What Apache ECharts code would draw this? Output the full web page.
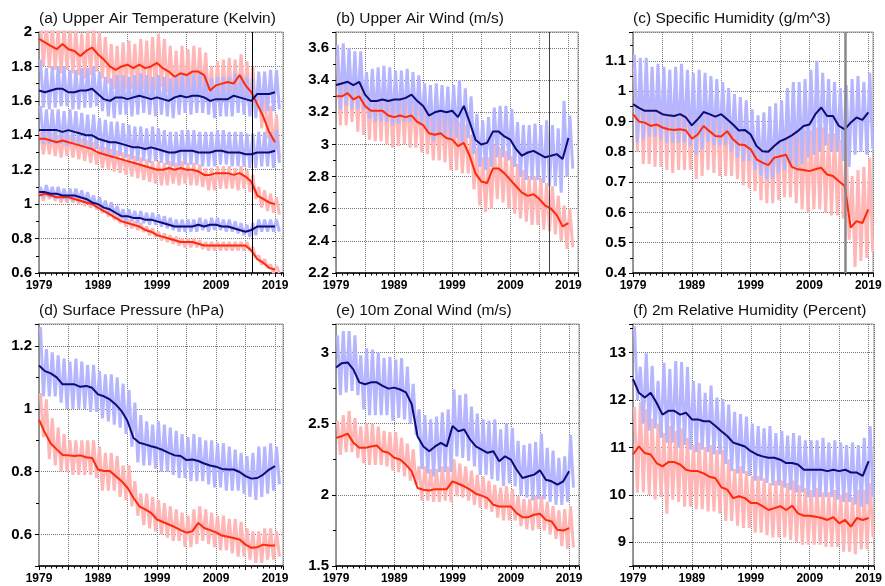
<!DOCTYPE html>
<html>
<head>
<meta charset="utf-8">
<script src="https://cdn.jsdelivr.net/npm/echarts@6/dist/echarts.min.js"></script>
<style>
html, body { margin: 0; padding: 0; background: #fff; }
#main { width: 885px; height: 586px; }
</style>
</head>
<body>
<div id="main"></div>
<script>
var years = [1979,1980,1981,1982,1983,1984,1985,1986,1987,1988,
             1989,1990,1991,1992,1993,1994,1995,1996,1997,1998,
             1999,2000,2001,2002,2003,2004,2005,2006,2007,2008,
             2009,2010,2011,2012,2013,2014,2015,2016,2017,2018,2019];

// (a) Upper Air Temperature - 12-month means and yearly highs / lows of the monthly series
var aRedTop   = [1.96,1.94,1.92,1.90,1.93,1.90,1.89,1.86,1.89,1.91, 1.87,1.84,1.80,1.78,1.80,1.81,1.79,1.81,1.79,1.80, 1.82,1.79,1.77,1.74,1.76,1.75,1.77,1.77,1.75,1.66, 1.69,1.70,1.71,1.70,1.75,1.69,1.65,1.58,1.51,1.42, 1.36];
var aRedTopHi = [2.06,2.05,2.03,2.02,2.04,2.02,2.01,1.99,2.01,2.03, 2.00,1.97,1.93,1.92,1.94,1.95,1.93,1.96,1.95,1.97, 1.99,1.96,1.92,1.89,1.92,1.90,1.92,1.91,1.88,1.80, 1.83,1.84,1.85,1.84,1.87,1.83,1.80,1.74,1.67,1.57, 1.52];
var aRedTopLo = [1.80,1.79,1.78,1.76,1.78,1.76,1.75,1.73,1.75,1.77, 1.73,1.70,1.67,1.65,1.67,1.67,1.66,1.67,1.66,1.66, 1.68,1.65,1.63,1.61,1.63,1.62,1.63,1.63,1.61,1.54, 1.56,1.57,1.58,1.57,1.61,1.57,1.52,1.44,1.38,1.30, 1.27];
var aBlueTop   = [1.66,1.65,1.66,1.67,1.67,1.65,1.65,1.66,1.66,1.67, 1.64,1.61,1.60,1.62,1.62,1.61,1.62,1.63,1.62,1.61, 1.62,1.61,1.60,1.62,1.63,1.62,1.63,1.63,1.62,1.60, 1.61,1.61,1.61,1.63,1.62,1.61,1.60,1.64,1.64,1.64, 1.65];
var aBlueTopHi = [1.84,1.79,1.80,1.80,1.80,1.78,1.78,1.79,1.79,1.80, 1.77,1.74,1.73,1.75,1.75,1.74,1.75,1.76,1.75,1.74, 1.75,1.74,1.73,1.75,1.76,1.75,1.76,1.76,1.75,1.73, 1.74,1.74,1.74,1.76,1.75,1.74,1.73,1.77,1.77,1.78, 1.78];
var aBlueTopLo = [1.56,1.55,1.56,1.57,1.57,1.55,1.55,1.56,1.56,1.57, 1.54,1.51,1.50,1.52,1.52,1.51,1.52,1.53,1.52,1.51, 1.52,1.51,1.50,1.52,1.53,1.52,1.53,1.53,1.52,1.50, 1.51,1.51,1.51,1.53,1.52,1.51,1.50,1.54,1.54,1.54, 1.55];
var aBlueMid   = [1.43,1.43,1.43,1.43,1.42,1.43,1.42,1.41,1.40,1.40, 1.38,1.37,1.36,1.36,1.35,1.34,1.33,1.33,1.32,1.33, 1.32,1.31,1.30,1.30,1.31,1.31,1.31,1.30,1.30,1.30, 1.31,1.31,1.30,1.30,1.30,1.29,1.29,1.30,1.30,1.30, 1.31];
var aBlueMidHi = [1.57,1.55,1.55,1.55,1.54,1.55,1.54,1.53,1.52,1.52, 1.50,1.49,1.48,1.48,1.47,1.46,1.45,1.45,1.44,1.45, 1.44,1.43,1.42,1.42,1.43,1.43,1.43,1.42,1.42,1.42, 1.43,1.43,1.42,1.42,1.42,1.41,1.41,1.42,1.42,1.42, 1.43];
var aBlueMidLo = [1.35,1.35,1.35,1.35,1.34,1.35,1.34,1.33,1.32,1.32, 1.30,1.29,1.28,1.28,1.27,1.26,1.25,1.25,1.24,1.25, 1.24,1.23,1.22,1.22,1.23,1.23,1.23,1.22,1.22,1.22, 1.23,1.23,1.22,1.22,1.22,1.21,1.21,1.22,1.22,1.21, 1.24];
var aRedMid   = [1.38,1.38,1.37,1.36,1.37,1.36,1.35,1.34,1.33,1.32, 1.30,1.29,1.28,1.27,1.26,1.25,1.24,1.23,1.22,1.21, 1.20,1.20,1.21,1.20,1.21,1.20,1.20,1.19,1.17,1.17, 1.18,1.18,1.18,1.17,1.18,1.16,1.13,1.05,1.03,1.01, 1.00];
var aRedMidHi = [1.42,1.42,1.41,1.40,1.41,1.40,1.39,1.38,1.37,1.36, 1.34,1.33,1.32,1.31,1.30,1.29,1.28,1.27,1.26,1.25, 1.25,1.24,1.25,1.24,1.25,1.24,1.24,1.23,1.21,1.21, 1.22,1.22,1.22,1.21,1.22,1.20,1.17,1.10,1.08,1.06, 1.04];
var aRedMidLo = [1.29,1.29,1.28,1.27,1.28,1.27,1.26,1.25,1.24,1.23, 1.21,1.20,1.19,1.18,1.17,1.16,1.15,1.14,1.13,1.12, 1.11,1.11,1.12,1.11,1.12,1.11,1.11,1.10,1.08,1.08, 1.09,1.09,1.09,1.08,1.09,1.07,1.03,0.98,0.96,0.95, 0.94];
var aBlueLow   = [1.07,1.07,1.06,1.06,1.05,1.05,1.05,1.04,1.03,1.01, 1.00,0.98,0.97,0.95,0.93,0.93,0.92,0.92,0.91,0.91, 0.90,0.89,0.88,0.87,0.87,0.87,0.87,0.88,0.87,0.88, 0.88,0.87,0.87,0.86,0.85,0.84,0.85,0.87,0.87,0.87, 0.87];
var aBlueLowHi = [1.10,1.11,1.10,1.10,1.09,1.09,1.09,1.08,1.07,1.05, 1.04,1.02,1.01,0.99,0.97,0.97,0.96,0.96,0.95,0.95, 0.94,0.93,0.92,0.91,0.91,0.91,0.91,0.92,0.91,0.92, 0.92,0.91,0.91,0.90,0.89,0.88,0.89,0.91,0.91,0.91, 0.91];
var aBlueLowLo = [1.04,1.04,1.03,1.03,1.02,1.02,1.02,1.01,1.00,0.98, 0.97,0.95,0.94,0.92,0.90,0.90,0.89,0.89,0.88,0.88, 0.87,0.86,0.85,0.84,0.84,0.84,0.84,0.85,0.84,0.85, 0.85,0.84,0.84,0.83,0.82,0.81,0.82,0.84,0.84,0.84, 0.84];
var aRedLow   = [1.05,1.06,1.05,1.04,1.04,1.04,1.03,1.02,1.01,1.00, 0.98,0.96,0.94,0.92,0.90,0.89,0.88,0.87,0.85,0.84, 0.82,0.81,0.80,0.79,0.78,0.78,0.78,0.77,0.76,0.76, 0.76,0.76,0.76,0.76,0.76,0.76,0.73,0.68,0.66,0.63, 0.62];
var aRedLowHi = [1.08,1.08,1.07,1.06,1.06,1.06,1.05,1.04,1.03,1.02, 1.00,0.98,0.96,0.94,0.92,0.91,0.90,0.89,0.87,0.86, 0.84,0.83,0.82,0.81,0.80,0.80,0.80,0.79,0.78,0.78, 0.78,0.78,0.78,0.78,0.78,0.78,0.75,0.70,0.68,0.65, 0.64];
var aRedLowLo = [1.02,1.03,1.02,1.01,1.01,1.01,1.00,0.99,0.98,0.97, 0.95,0.93,0.91,0.89,0.87,0.86,0.85,0.84,0.82,0.81, 0.79,0.78,0.77,0.76,0.75,0.75,0.75,0.74,0.73,0.73, 0.73,0.73,0.73,0.73,0.73,0.73,0.69,0.65,0.63,0.60, 0.60];

// (b) Upper Air Wind
var bBlue   = [3.37,3.38,3.39,3.37,3.39,3.31,3.27,3.27,3.28,3.27, 3.28,3.28,3.29,3.31,3.27,3.24,3.18,3.20,3.21,3.20, 3.21,3.17,3.24,3.14,3.03,3.00,3.01,3.08,3.08,3.05, 3.03,2.97,2.93,2.95,2.96,2.94,2.92,2.93,2.94,2.91, 3.04];
var bBlueHi = [3.62,3.63,3.60,3.58,3.58,3.45,3.47,3.48,3.49,3.48, 3.46,3.46,3.47,3.45,3.43,3.38,3.37,3.38,3.37,3.36, 3.37,3.40,3.35,3.30,3.19,3.15,3.17,3.23,3.24,3.24, 3.22,3.14,3.12,3.12,3.13,3.12,3.15,3.12,3.10,3.27, 3.18];
var bBlueLo = [3.22,3.24,3.22,3.22,3.22,3.16,3.14,3.14,3.14,3.12, 3.13,3.14,3.14,3.14,3.12,3.08,3.02,3.06,3.06,3.04, 3.04,3.00,3.04,2.94,2.86,2.84,2.86,2.92,2.92,2.90, 2.86,2.80,2.78,2.78,2.78,2.76,2.74,2.74,2.70,2.80, 2.85];
var bRed    = [3.30,3.30,3.32,3.28,3.30,3.24,3.21,3.21,3.21,3.18, 3.17,3.18,3.17,3.18,3.14,3.12,3.07,3.06,3.07,3.04, 3.03,2.99,3.01,2.93,2.82,2.77,2.76,2.85,2.85,2.82, 2.78,2.74,2.70,2.68,2.69,2.66,2.62,2.60,2.56,2.49, 2.51];
var bRedHi  = [3.55,3.55,3.53,3.48,3.48,3.40,3.38,3.38,3.39,3.36, 3.32,3.35,3.32,3.30,3.30,3.28,3.20,3.22,3.22,3.20, 3.18,3.14,3.12,3.06,2.98,2.92,2.92,3.00,2.98,2.96, 2.93,2.88,2.84,2.80,2.80,2.79,2.76,2.74,2.68,2.62, 2.60];
var bRedLo  = [3.12,3.12,3.14,3.08,3.06,3.03,3.02,3.02,3.00,2.98, 2.99,3.00,2.98,2.98,2.95,2.94,2.90,2.90,2.89,2.84, 2.84,2.82,2.82,2.72,2.62,2.58,2.60,2.66,2.64,2.60, 2.57,2.54,2.52,2.50,2.50,2.47,2.46,2.44,2.40,2.35, 2.36];

// (c) Specific Humidity
var cBlue   = [0.957,0.945,0.935,0.935,0.935,0.924,0.920,0.918,0.924,0.913, 0.887,0.907,0.931,0.924,0.916,0.924,0.907,0.890,0.870,0.872, 0.857,0.819,0.802,0.800,0.819,0.835,0.843,0.854,0.868,0.885, 0.890,0.924,0.946,0.918,0.918,0.885,0.874,0.896,0.913,0.905, 0.930];
var cBlueHi = [1.12,1.11,1.11,1.08,1.09,1.08,1.07,1.08,1.09,1.07, 1.06,1.07,1.06,1.05,1.04,1.03,1.01,0.99,0.98,0.97, 0.94,0.92,0.93,0.95,0.96,0.97,1.01,1.03,1.03,1.04, 1.07,1.10,1.06,1.04,1.03,1.01,1.02,1.04,1.05,1.03, 1.06];
var cBlueLo = [0.83,0.84,0.85,0.85,0.84,0.83,0.83,0.83,0.83,0.82, 0.79,0.81,0.83,0.82,0.82,0.82,0.80,0.78,0.77,0.77, 0.74,0.72,0.71,0.71,0.73,0.74,0.75,0.75,0.76,0.78, 0.79,0.80,0.82,0.80,0.80,0.77,0.75,0.79,0.80,0.79, 0.81];
var cRed    = [0.924,0.900,0.896,0.885,0.890,0.880,0.874,0.872,0.874,0.870, 0.843,0.857,0.885,0.868,0.852,0.850,0.868,0.841,0.824,0.822, 0.808,0.775,0.764,0.756,0.780,0.785,0.790,0.750,0.742,0.740, 0.736,0.742,0.747,0.725,0.720,0.703,0.687,0.550,0.571,0.565, 0.610];
var cRedHi  = [1.08,1.06,1.05,1.05,1.04,1.03,1.03,1.03,1.03,1.04, 1.00,1.01,1.02,1.00,1.00,0.99,0.98,0.96,0.96,0.95, 0.92,0.90,0.89,0.88,0.90,0.91,0.92,0.90,0.88,0.87, 0.87,0.88,0.88,0.86,0.86,0.84,0.82,0.72,0.74,0.75, 0.78];
var cRedLo  = [0.80,0.76,0.76,0.75,0.75,0.74,0.73,0.74,0.74,0.74, 0.71,0.72,0.74,0.73,0.72,0.72,0.72,0.71,0.69,0.68, 0.67,0.64,0.63,0.63,0.64,0.65,0.65,0.63,0.61,0.60, 0.61,0.61,0.60,0.59,0.59,0.58,0.51,0.42,0.44,0.45, 0.47];

// (d) Surface Pressure
var dBlue   = [1.138,1.120,1.113,1.100,1.078,1.078,1.078,1.070,1.073,1.067, 1.046,1.040,1.030,1.014,0.993,0.961,0.908,0.892,0.887,0.881, 0.876,0.869,0.860,0.852,0.850,0.837,0.839,0.834,0.826,0.820, 0.816,0.809,0.807,0.807,0.799,0.786,0.778,0.780,0.791,0.807, 0.818];
var dBlueHi = [1.26,1.19,1.18,1.17,1.16,1.15,1.16,1.15,1.14,1.14, 1.12,1.11,1.11,1.10,1.08,1.06,1.02,0.98,0.96,0.95, 0.96,0.95,0.94,0.93,0.92,0.91,0.92,0.91,0.90,0.90, 0.89,0.89,0.88,0.87,0.86,0.85,0.86,0.88,0.88,0.89, 0.88];
var dBlueLo = [1.04,1.04,1.04,1.02,1.00,1.00,1.00,1.00,0.99,0.99, 0.97,0.96,0.95,0.94,0.92,0.88,0.83,0.82,0.82,0.81, 0.80,0.80,0.79,0.78,0.78,0.77,0.77,0.77,0.76,0.75, 0.75,0.74,0.74,0.74,0.73,0.72,0.71,0.72,0.73,0.74, 0.76];
var dRed    = [0.966,0.924,0.890,0.871,0.853,0.852,0.850,0.852,0.846,0.844, 0.807,0.802,0.802,0.786,0.770,0.749,0.717,0.690,0.680,0.669, 0.648,0.640,0.632,0.624,0.614,0.606,0.611,0.637,0.621,0.614, 0.607,0.597,0.593,0.589,0.584,0.568,0.558,0.560,0.568,0.565, 0.565];
var dRedHi  = [1.05,1.03,0.97,0.94,0.92,0.90,0.90,0.90,0.90,0.90, 0.88,0.86,0.86,0.85,0.82,0.82,0.77,0.73,0.73,0.72, 0.71,0.70,0.69,0.68,0.67,0.66,0.68,0.69,0.68,0.67, 0.66,0.66,0.65,0.65,0.64,0.62,0.61,0.61,0.62,0.62, 0.61];
var dRedLo  = [0.91,0.84,0.82,0.80,0.80,0.79,0.79,0.79,0.79,0.78, 0.74,0.74,0.74,0.72,0.71,0.69,0.66,0.63,0.62,0.61, 0.60,0.59,0.58,0.58,0.56,0.56,0.57,0.58,0.57,0.56, 0.55,0.55,0.54,0.53,0.53,0.52,0.51,0.51,0.52,0.52, 0.53];

// (e) 10m Zonal Wind
var eBlue   = [2.894,2.925,2.930,2.880,2.790,2.777,2.790,2.790,2.765,2.746, 2.753,2.740,2.720,2.636,2.410,2.340,2.306,2.340,2.365,2.340, 2.483,2.447,2.459,2.389,2.340,2.318,2.295,2.306,2.236,2.270, 2.248,2.177,2.118,2.130,2.142,2.172,2.106,2.095,2.071,2.095, 2.165];
var eBlueHi = [3.12,3.15,3.15,3.12,2.98,3.03,3.02,3.00,2.96,2.97, 2.95,2.96,2.90,2.78,2.60,2.56,2.53,2.55,2.58,2.60, 2.74,2.70,2.71,2.62,2.57,2.53,2.52,2.53,2.46,2.50, 2.47,2.38,2.35,2.36,2.37,2.43,2.33,2.31,2.26,2.27, 2.42];
var eBlueLo = [2.70,2.72,2.73,2.70,2.60,2.56,2.56,2.56,2.56,2.52, 2.54,2.53,2.50,2.42,2.18,2.15,2.13,2.16,2.16,2.16, 2.27,2.26,2.24,2.20,2.14,2.14,2.11,2.10,2.06,2.08, 2.06,2.00,1.98,1.96,1.97,1.97,1.95,1.93,1.93,1.95, 2.05];
var eRed    = [2.400,2.412,2.430,2.365,2.330,2.330,2.340,2.346,2.306,2.295, 2.260,2.248,2.212,2.165,2.048,2.036,2.030,2.040,2.040,2.040, 2.095,2.078,2.060,2.036,2.008,1.994,1.977,1.930,1.918,1.918, 1.918,1.871,1.843,1.843,1.860,1.867,1.824,1.813,1.754,1.749, 1.766];
var eRedHi  = [2.52,2.56,2.59,2.54,2.48,2.50,2.50,2.48,2.45,2.44, 2.44,2.40,2.36,2.32,2.20,2.20,2.18,2.18,2.20,2.20, 2.25,2.22,2.20,2.17,2.14,2.13,2.10,2.07,2.05,2.06, 2.04,1.99,1.97,1.97,1.99,1.99,1.95,1.92,1.89,1.90, 1.92];
var eRedLo  = [2.28,2.30,2.30,2.26,2.22,2.21,2.21,2.21,2.20,2.17, 2.16,2.13,2.10,2.07,1.96,1.96,1.95,1.95,1.96,1.95, 1.99,1.98,1.96,1.93,1.91,1.90,1.88,1.84,1.82,1.82, 1.82,1.78,1.76,1.75,1.76,1.75,1.72,1.69,1.64,1.62, 1.63];

// (f) 2m Relative Humidity
var fBlue   = [12.44,12.15,12.05,12.15,11.94,11.69,11.77,11.77,11.69,11.73, 11.59,11.59,11.55,11.55,11.45,11.34,11.24,11.10,11.06,11.02, 10.92,10.85,10.81,10.78,10.78,10.74,10.67,10.67,10.64,10.53, 10.53,10.53,10.53,10.50,10.53,10.50,10.53,10.47,10.47,10.40, 10.71];
var fBlueHi = [13.55,12.70,12.98,12.72,12.40,12.78,12.65,12.82,12.80,12.70, 12.40,12.35,12.15,12.30,12.05,12.02,11.90,11.75,11.70,11.65, 11.50,11.45,11.40,11.45,11.30,11.35,11.25,11.30,11.25,11.15, 11.15,11.15,11.20,11.10,11.15,11.10,11.05,11.10,11.05,11.20, 11.45];
var fBlueLo = [12.00,11.50,11.35,11.40,11.20,11.10,11.10,11.00,11.05,10.95, 10.90,10.95,10.90,10.85,10.85,10.65,10.50,10.45,10.45,10.40, 10.30,10.30,10.25,10.20,10.20,10.15,10.10,10.05,10.05,9.95, 9.95,9.95,9.95,9.95,9.90,9.85,9.85,9.80,9.75,9.80, 9.95];
var fRed    = [10.85,11.02,10.88,10.85,10.67,10.60,10.69,10.69,10.64,10.53, 10.50,10.50,10.45,10.38,10.35,10.16,10.11,9.93,9.97,9.93, 9.83,9.83,9.76,9.68,9.72,9.76,9.68,9.77,9.61,9.56, 9.56,9.54,9.51,9.47,9.53,9.40,9.47,9.33,9.51,9.47, 9.51];
var fRedHi  = [11.85,11.95,11.80,11.60,11.50,11.30,11.45,11.35,11.40,11.20, 11.05,11.10,11.00,11.05,10.95,10.95,10.75,10.55,10.60,10.50, 10.40,10.40,10.35,10.25,10.30,10.30,10.25,10.30,10.20,10.15, 10.10,10.15,10.05,10.05,10.10,10.00,10.05,9.95,10.10,10.10, 10.25];
var fRedLo  = [10.05,10.05,10.00,9.90,9.95,9.60,9.90,9.85,9.75,9.75, 9.70,9.70,9.65,9.65,9.60,9.45,9.45,9.35,9.30,9.30, 9.20,9.20,9.15,9.10,9.10,9.10,9.05,9.00,8.95,8.95, 8.95,8.95,8.90,8.90,8.90,8.80,8.80,8.75,8.85,8.85, 9.10];

var RED = '#ff2a0a', RED_LIGHT = '#ffb6b6', BLUE = '#0c0c78', BLUE_LIGHT = '#b6b6ff';
var FONT = '"Liberation Sans", Arial, Helvetica, sans-serif';

// panel layout (pixels) + which series go where
var panels = [
  { title: '(a) Upper Air Temperature (Kelvin)', left: 39, top: 32, width: 244, height: 241,
    xMax: 2020.36, yMin: 0.6, yMax: 2.0, step: 0.2, vline: 2015.1, vColor: '#000', vWidth: 1,
    red: [[aRedTop, aRedTopHi, aRedTopLo], [aRedMid, aRedMidHi, aRedMidLo], [aRedLow, aRedLowHi, aRedLowLo]],
    blue: [[aBlueTop, aBlueTopHi, aBlueTopLo], [aBlueMid, aBlueMidHi, aBlueMidLo], [aBlueLow, aBlueLowHi, aBlueLowLo]] },
  { title: '(b) Upper Air Wind (m/s)', left: 336, top: 32, width: 242, height: 241,
    xMax: 2020.65, yMin: 2.2, yMax: 3.7, step: 0.2, vline: 2015.7, vColor: '#444', vWidth: 1,
    red: [[bRed, bRedHi, bRedLo]], blue: [[bBlue, bBlueHi, bBlueLo]] },
  { title: '(c) Specific Humidity (g/m^3)', left: 633, top: 32, width: 240, height: 241,
    xMax: 2019.8, yMin: 0.4, yMax: 1.195, step: 0.1, vline: 2015.1, vColor: '#888', vWidth: 2.5,
    red: [[cRed, cRedHi, cRedLo]], blue: [[cBlue, cBlueHi, cBlueLo]] },
  { title: '(d) Surface Pressure (hPa)', left: 39, top: 324, width: 244, height: 242,
    xMax: 2020.35, yMin: 0.5, yMax: 1.27, step: 0.2,
    red: [[dRed, dRedHi, dRedLo]], blue: [[dBlue, dBlueHi, dBlueLo]] },
  { title: '(e) 10m Zonal Wind (m/s)', left: 336, top: 324, width: 243, height: 242,
    xMax: 2020.7, yMin: 1.5, yMax: 3.2, step: 0.5,
    red: [[eRed, eRedHi, eRedLo]], blue: [[eBlue, eBlueHi, eBlueLo]] },
  { title: '(f) 2m Relative Humidity (Percent)', left: 633, top: 324, width: 241, height: 242,
    xMax: 2019.9, yMin: 8.5, yMax: 13.6, step: 1,
    red: [[fRed, fRedHi, fRedLo]], blue: [[fBlue, fBlueHi, fBlueLo]] }
];

function darkPts(vals) {
  return years.map(function (y, i) { return [y, vals[i]]; });
}
function lightPts(hi, lo) {
  var out = [];
  years.forEach(function (y, i) {
    out.push([y + 0.25, hi[i]]);
    out.push([y + 0.75, lo[i]]);
  });
  return out;
}

var titles = [], grids = [], xAxes = [], yAxes = [], series = [];

panels.forEach(function (p, k) {
  titles.push({
    text: p.title, left: p.left, top: p.top - 21, padding: 0,
    textStyle: { fontSize: 15.5, fontWeight: 'normal', color: '#111', fontFamily: FONT }
  });
  grids.push({
    left: p.left, top: p.top, width: p.width, height: p.height,
    show: true, borderColor: '#999', borderWidth: 1, containLabel: false
  });
  xAxes.push({
    gridIndex: k, type: 'value', min: 1979, max: p.xMax, interval: 5,
    axisLine: { show: true, onZero: false, lineStyle: { color: '#000', width: 1.5 } },
    axisTick: { show: true, length: 4, lineStyle: { color: '#000' } },
    minorTick: { show: true, splitNumber: 5, length: 2.5, lineStyle: { color: '#000' } },
    splitLine: { show: true, lineStyle: { type: 'dotted', color: '#777' } },
    axisLabel: {
      margin: 7, fontSize: 12, fontWeight: 'bold', color: '#000', fontFamily: FONT,
      formatter: function (v) { return (v - 1979) % 10 === 0 ? String(v) : ''; }
    }
  });
  yAxes.push({
    gridIndex: k, type: 'value', min: p.yMin, max: p.yMax,
    minInterval: p.step, maxInterval: p.step,
    axisLine: { show: true, onZero: false, lineStyle: { color: '#888', width: 1.5 } },
    axisTick: { show: true, length: 4, lineStyle: { color: '#000' } },
    minorTick: { show: true, splitNumber: 2, length: 3, lineStyle: { color: '#000' } },
    splitLine: { show: true, lineStyle: { type: 'dotted', color: '#777' } },
    axisLabel: {
      margin: 7, fontSize: 15, fontWeight: 'bold', color: '#000', fontFamily: FONT,
      formatter: function (v) {
        var r = v / p.step;
        if (Math.abs(r - Math.round(r)) > 1e-6) return '';
        return String(Math.round(v * 100) / 100);
      }
    }
  });

  var base = { type: 'line', xAxisIndex: k, yAxisIndex: k, showSymbol: false, symbol: 'none', silent: true };
  var first = true;
  // light (monthly) lines first, then the running means on top
  for (var i = 0; i < p.red.length; i++) {
    [[p.red[i], RED_LIGHT], [p.blue[i], BLUE_LIGHT]].forEach(function (s) {
      var ser = Object.assign({}, base, {
        data: lightPts(s[0][1], s[0][2]),
        lineStyle: { color: s[1], width: 3 }
      });
      if (first && p.vline) {
        ser.markLine = {
          silent: true, symbol: ['none', 'none'], label: { show: false },
          lineStyle: { color: p.vColor, width: p.vWidth, type: 'solid' },
          data: [{ xAxis: p.vline }]
        };
      }
      first = false;
      series.push(ser);
    });
  }
  for (var j = 0; j < p.red.length; j++) {
    series.push(Object.assign({}, base, { data: darkPts(p.red[j][0]), lineStyle: { color: RED, width: 2 }, z: 3 }));
    series.push(Object.assign({}, base, { data: darkPts(p.blue[j][0]), lineStyle: { color: BLUE, width: 2 }, z: 3 }));
  }
});

var chart = echarts.init(document.getElementById('main'));
chart.setOption({
  animation: false,
  backgroundColor: '#fff',
  title: titles,
  grid: grids,
  xAxis: xAxes,
  yAxis: yAxes,
  series: series
});
</script>
</body>
</html>
